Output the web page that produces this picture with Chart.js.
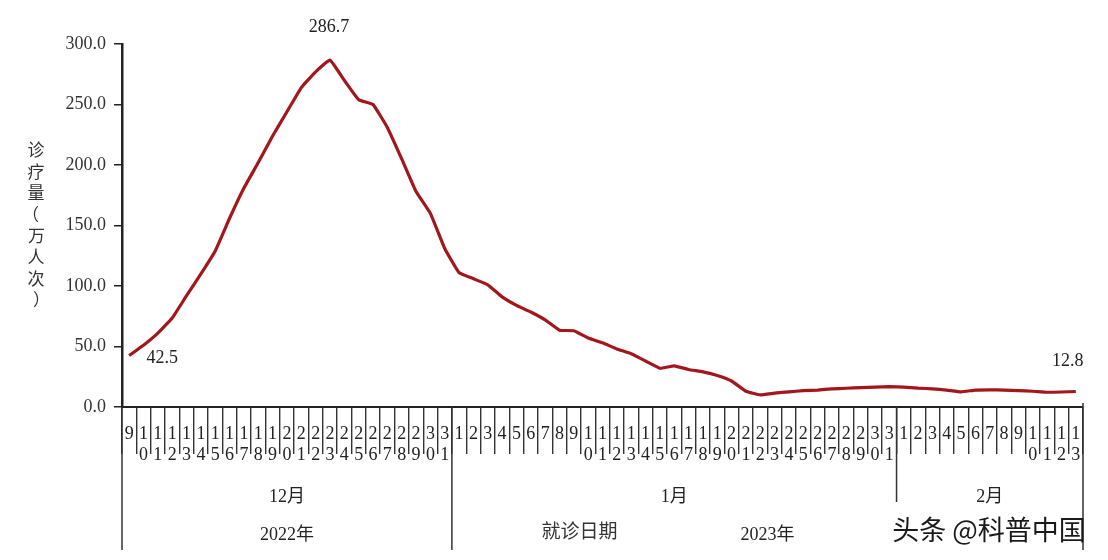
<!DOCTYPE html>
<html><head><meta charset="utf-8">
<script src="https://cdn.jsdelivr.net/npm/chart.js@4/dist/chart.umd.min.js"></script>
<style>html,body{margin:0;padding:0;background:#fff;}#wrap{width:1108px;height:560px;}</style>
</head><body><div id="wrap"><canvas id="c" width="1108" height="560"></canvas></div>
<script>
// ---- data ----
const categories = [
 '12/9','12/10','12/11','12/12','12/13','12/14','12/15','12/16','12/17','12/18','12/19','12/20',
 '12/21','12/22','12/23','12/24','12/25','12/26','12/27','12/28','12/29','12/30','12/31',
 '1/1','1/2','1/3','1/4','1/5','1/6','1/7','1/8','1/9','1/10','1/11','1/12','1/13','1/14','1/15',
 '1/16','1/17','1/18','1/19','1/20','1/21','1/22','1/23','1/24','1/25','1/26','1/27','1/28','1/29',
 '1/30','1/31',
 '2/1','2/2','2/3','2/4','2/5','2/6','2/7','2/8','2/9','2/10','2/11','2/12','2/13'
];
const visits = [
 42.5, 51, 61, 73.5, 92, 110, 129, 156, 181, 202, 224, 244,
 264, 277, 286.7, 270, 254, 250, 231, 205, 178, 160, 131,
 111, 106, 101, 91, 84, 78.5, 72, 63.5, 63, 57, 53, 48, 44, 38, 32,
 34, 31, 29, 26, 21.5, 13, 10, 11.5, 12.5, 13.5, 14, 15, 15.5, 16,
 16.5, 16.8,
 16.5, 15.6, 15, 14, 12.5, 14, 14.2, 14, 13.5, 13, 12.2, 12.4, 12.8
];
const yTickValues = [0, 50, 100, 150, 200, 250, 300];
const labelledPoints = [0, 14, 66];
const monthNames = {'12': '12月', '1': '1月', '2': '2月'};
const yearNames = {'12': '2022年', '1': '2023年', '2': '2023年'};
const yTitle = '诊疗量（万人次）';
const xTitle = '就诊日期';
const watermark = '头条 @科普中国';

const dayTick = c => { const d = c.split('/')[1]; return d.length > 1 ? d.split('') : [d]; };

const decor = {
  id: 'decor',
  afterDraw(chart) {
    const ctx = chart.ctx, xs = chart.scales.x, ys = chart.scales.y;
    const n = categories.length;
    const base = ys.getPixelForValue(0);
    const deep = chart.height - 10;
    const edge = i => i <= 0 ? xs.left : (i >= n ? xs.right : (xs.getPixelForValue(i - 1) + xs.getPixelForValue(i)) / 2);
    const months = [];
    categories.forEach((c, i) => {
      const m = c.split('/')[0];
      if (!months.length || months[months.length - 1].m !== m) months.push({m, from: i, to: i});
      else months[months.length - 1].to = i;
    });
    const years = [];
    months.forEach(g => {
      const y = yearNames[g.m];
      if (!years.length || years[years.length - 1].y !== y) years.push({y, from: g.from, to: g.to});
      else years[years.length - 1].to = g.to;
    });
    ctx.save();
    ctx.strokeStyle = '#333';
    ctx.lineWidth = 1.5;
    const vline = (x, y2) => { ctx.beginPath(); ctx.moveTo(x, base); ctx.lineTo(x, y2); ctx.stroke(); };
    vline(xs.left, deep);
    vline(xs.right, deep);
    ctx.beginPath(); ctx.moveTo(xs.right, base - 4); ctx.lineTo(xs.right, base); ctx.stroke();
    months.forEach((g, k) => { if (k > 0) {
      const isYear = years.some(y => y.from === g.from);
      vline(edge(g.from), isYear ? deep : base + 95);
    }});
    ctx.fillStyle = '#222';
    ctx.textAlign = 'center'; ctx.textBaseline = 'middle';
    ctx.font = "18px 'Liberation Serif', 'Noto Sans CJK SC'";
    months.forEach(g => ctx.fillText(monthNames[g.m], (edge(g.from) + edge(g.to + 1)) / 2, base + 90));
    years.forEach(g => ctx.fillText(g.y, (edge(g.from) + edge(g.to + 1)) / 2, base + 128));
    ctx.font = "19px 'Noto Sans CJK SC'";
    ctx.fillStyle = '#333';
    ctx.fillText(xTitle, xs.getPixelForValue(31.4), base + 124);
    ctx.font = "27px 'Noto Sans CJK SC'";
    ctx.fillStyle = '#1a1a1a';
    ctx.fillText(watermark, 989, base + 123);
    // y title stacked vertically, ink-centred
    ctx.font = "17px 'Noto Sans CJK SC'";
    ctx.fillStyle = '#333';
    ctx.textAlign = 'left';
    Array.from(yTitle).forEach((ch, k) => {
      const m = ctx.measureText(ch);
      const x = 36 - (m.actualBoundingBoxRight - m.actualBoundingBoxLeft) / 2;
      ctx.fillText(ch, x, 150 + k * 21.4);
    });
    ctx.textAlign = 'center';
    // value labels
    const meta = chart.getDatasetMeta(0);
    ctx.font = "18px 'Liberation Serif'";
    ctx.fillStyle = '#222';
    const offs = {0: [33, 3], 14: [-1, -33], 66: [-8, -30]};
    labelledPoints.forEach(i => {
      const p = meta.data[i];
      const o = offs[i] || [0, -20];
      ctx.fillText(visits[i].toFixed(1), p.x + o[0], p.y + o[1]);
    });
    ctx.restore();
  }
};

new Chart(document.getElementById('c'), {
  type: 'line',
  data: {
    labels: categories,
    datasets: [{
      data: visits,
      borderColor: '#a3161b',
      borderWidth: 3.2,
      pointRadius: 0,
      tension: 0.1,
      fill: false
    }]
  },
  options: {
    responsive: false,
    devicePixelRatio: 1,
    animation: false,
    layout: {padding: {left: 0, right: 25, top: 44, bottom: 0}},
    plugins: {legend: {display: false}, tooltip: {enabled: false}},
    scales: {
      x: {
        type: 'category',
        offset: true,
        afterFit: s => { s.height = 153; },
        grid: {offset: true, drawOnChartArea: false, tickLength: 47, color: '#333', lineWidth: 1.4},
        border: {display: true, color: '#222', width: 2},
        ticks: {
          autoSkip: false, maxRotation: 0, minRotation: 0,
          padding: -30,
          color: '#222',
          font: {family: "'Liberation Serif'", size: 18, lineHeight: '21px'},
          callback: (v, i) => dayTick(categories[i])
        }
      },
      y: {
        min: 0, max: 300,
        afterFit: s => { s.width = 122; },
        afterBuildTicks: s => { s.ticks = yTickValues.map(v => ({value: v})); },
        grid: {drawOnChartArea: false, tickLength: 8, color: '#222', lineWidth: 1.5},
        border: {display: true, color: '#222', width: 2.5},
        ticks: {
          padding: 8,
          color: '#333',
          font: {family: "'Liberation Serif'", size: 18},
          callback: v => Number(v).toFixed(1)
        }
      }
    }
  },
  plugins: [decor]
});
</script>
</body></html>
